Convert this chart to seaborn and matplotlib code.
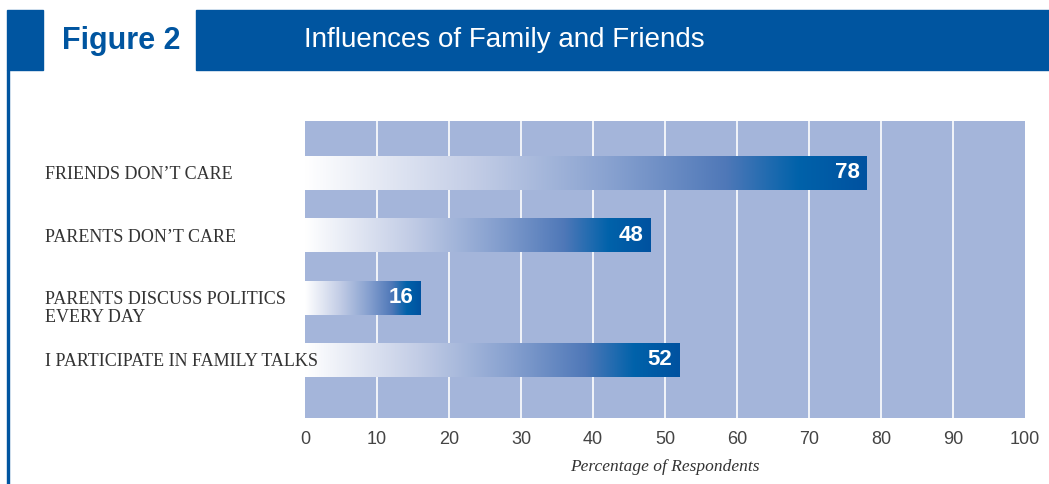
import numpy as np
import pandas as pd
import matplotlib
matplotlib.use("Agg")
import matplotlib.pyplot as plt
import matplotlib.transforms as mtransforms
import seaborn as sns
from matplotlib.colors import LinearSegmentedColormap
from matplotlib.patches import Rectangle

# ---- data ----
categories = ["FRIENDS DON\u2019T CARE", "PARENTS DON\u2019T CARE",
              "PARENTS DISCUSS POLITICS\nEVERY DAY", "I PARTICIPATE IN FAMILY TALKS"]
values = [78, 48, 16, 52]
xticks = [0, 10, 20, 30, 40, 50, 60, 70, 80, 90, 100]
title_tag = "Figure 2"
title_text = "Influences of Family and Friends"
xlabel = "Percentage of Respondents"

BLUE = "#0055A0"
BG = "#A4B5DA"

sns.set_theme(style="white")
plt.rcParams["font.family"] = ["Liberation Sans", "DejaVu Sans"]

W, H = 1049, 484
fig = plt.figure(figsize=(W / 100, H / 100), dpi=100)

def fx(px):
    return px / W

def fy(py):
    return 1 - py / H

# header
fig.patches.append(Rectangle((fx(7), fy(70)), fx(36), 60 / H, transform=fig.transFigure,
                             color=BLUE, zorder=0))
fig.patches.append(Rectangle((fx(196), fy(70)), fx(W - 196), 60 / H, transform=fig.transFigure,
                             color=BLUE, zorder=0))
fig.patches.append(Rectangle((fx(7), 0), fx(1.5), fy(70), transform=fig.transFigure,
                             color=BLUE, zorder=0))
fig.text(fx(62), fy(41), title_tag, color=BLUE, fontsize=22, fontweight="bold",
         va="center", ha="left")
fig.text(fx(304), fy(40), title_text, color="white", fontsize=20,
         va="center", ha="left")

ax = fig.add_axes([fx(305), fy(418), fx(720), 297 / H])
ax.set_facecolor(BG)

df = pd.DataFrame({"category": categories, "value": values})
sns.barplot(data=df, x="value", y="category", orient="h", ax=ax,
            color=BLUE, width=0.545, zorder=3, linewidth=0, edgecolor="none")

ax.set_xlim(0, 100)
ax.set_ylim(3.93, -0.83)
ax.set_xticks(xticks)
ax.set_xticklabels([str(t) for t in xticks], color="#444444", fontsize=13,
                   family=["Liberation Sans Narrow", "Liberation Sans", "DejaVu Sans"])
for x in xticks[1:-1]:
    ax.axvline(x, color="white", lw=1.2, zorder=1)
for s in ax.spines.values():
    s.set_visible(False)
ax.tick_params(axis="x", length=0, pad=9)
ax.tick_params(axis="y", length=0, pad=(305 - 45) * 0.72)
ax.yaxis.set_zorder(6)
ax.set_ylabel("")
ax.set_xlabel(xlabel, fontsize=12.5, style="italic", color="#333333",
              family=["Liberation Serif", "DejaVu Serif"], labelpad=8)
for lab in ax.get_yticklabels():
    lab.set_ha("left")
    lab.set_family(["Liberation Serif", "DejaVu Serif"])
    lab.set_fontsize(13)
    lab.set_color("#333333")
    lab.set_linespacing(1.1)
    if "\n" in lab.get_text():
        lab.set_transform(lab.get_transform() +
                          mtransforms.ScaledTranslation(0, -8 / 100, fig.dpi_scale_trans))

cmap = LinearSegmentedColormap.from_list("g", [
    (0.0, "#FFFFFF"), (0.3, "#C3CDE6"), (0.55, "#86A0CF"), (0.75, "#4F78B8"),
    (0.88, "#0062AA"), (1.0, "#0052A0")])
grad = np.linspace(0, 1, 256).reshape(1, -1)
for p, v in zip(ax.patches, values):
    x0, y0 = p.get_x(), p.get_y()
    w, h = p.get_width(), p.get_height()
    im = ax.imshow(grad, cmap=cmap, aspect="auto", extent=(x0, x0 + w, y0 + h, y0),
                   zorder=4, interpolation="bicubic")
    im.set_clip_path(p)
    ax.text(x0 + w - 1, y0 + h / 2, str(v), color="white", fontsize=16,
            fontweight="bold", ha="right", va="center", zorder=5,
            family=["Liberation Sans Narrow", "Liberation Sans", "DejaVu Sans"])
ax.set_xlim(0, 100)
ax.set_ylim(3.93, -0.83)

fig.savefig("out.png", dpi=100)
